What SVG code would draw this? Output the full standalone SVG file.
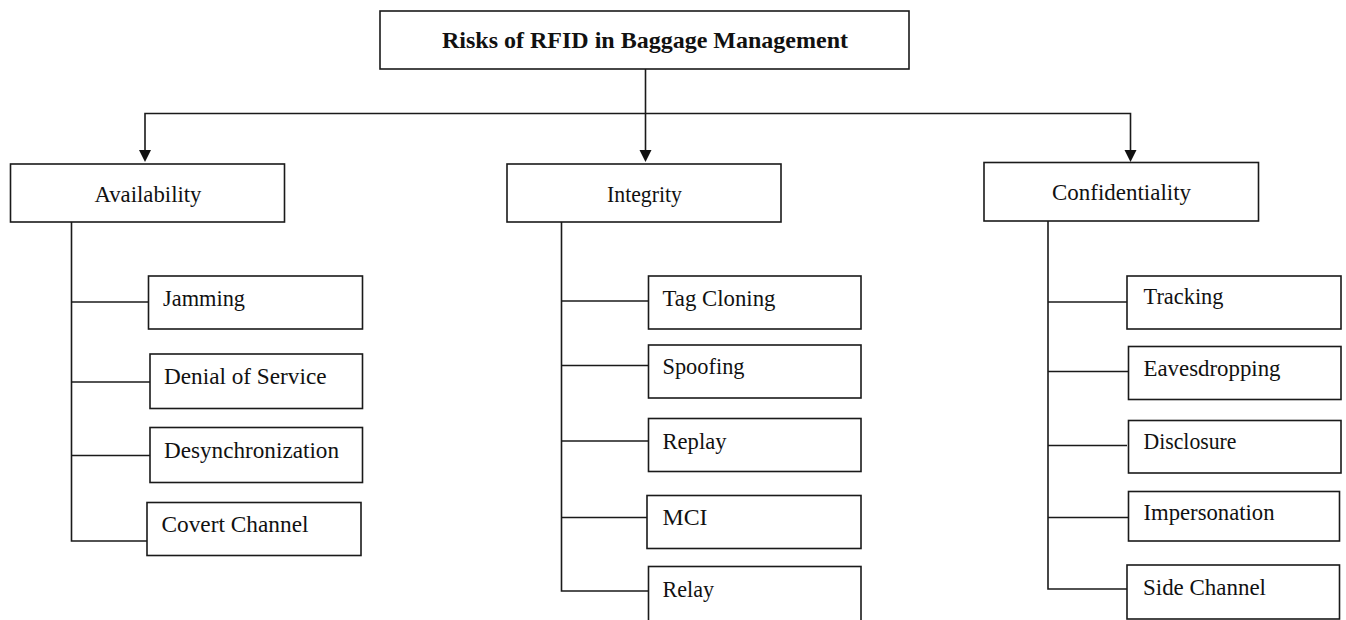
<svg xmlns="http://www.w3.org/2000/svg" width="1346" height="620" viewBox="0 0 1346 620">
  <style>
    .box { fill: #ffffff; stroke: #1a1a1a; stroke-width: 1.6; }
    .wire { fill: none; stroke: #1a1a1a; stroke-width: 1.6; }
    .head { fill: #111111; }
    .lbl { font-family: "Liberation Serif", "Times New Roman", serif; font-size: 23.5px; fill: #111111; }
    .title { font-family: "Liberation Serif", "Times New Roman", serif; font-size: 24px; font-weight: bold; fill: #111111; }
  </style>
  <rect width="1346" height="620" fill="#ffffff"/>

  <!-- connectors -->
  <g id="connectors">
    <!-- root to categories -->
    <line class="wire" x1="645.5" y1="69" x2="645.5" y2="113.5"/>
    <polyline class="wire" points="145,150 145,113.5 1130.5,113.5 1130.5,150"/>
    <line class="wire" x1="645.5" y1="113.5" x2="645.5" y2="150"/>
    <polygon class="head" points="139,150 151,150 145,162"/>
    <polygon class="head" points="639.5,150 651.5,150 645.5,162"/>
    <polygon class="head" points="1124.5,150 1136.5,150 1130.5,162"/>

    <!-- Availability branch -->
    <polyline class="wire" points="71.5,222 71.5,541 148,541"/>
    <line class="wire" x1="71.5" y1="302" x2="148" y2="302"/>
    <line class="wire" x1="71.5" y1="382" x2="150" y2="382"/>
    <line class="wire" x1="71.5" y1="455.5" x2="150" y2="455.5"/>

    <!-- Integrity branch -->
    <polyline class="wire" points="561.5,222 561.5,591 648,591"/>
    <line class="wire" x1="561.5" y1="301" x2="648" y2="301"/>
    <line class="wire" x1="561.5" y1="365.5" x2="648" y2="365.5"/>
    <line class="wire" x1="561.5" y1="441" x2="648" y2="441"/>
    <line class="wire" x1="561.5" y1="517.5" x2="647" y2="517.5"/>

    <!-- Confidentiality branch -->
    <polyline class="wire" points="1048,221 1048,589 1127,589"/>
    <line class="wire" x1="1048" y1="302" x2="1127" y2="302"/>
    <line class="wire" x1="1048" y1="371.5" x2="1128.5" y2="371.5"/>
    <line class="wire" x1="1048" y1="445.5" x2="1127" y2="445.5"/>
    <line class="wire" x1="1048" y1="517.5" x2="1128.5" y2="517.5"/>
  </g>

  <!-- root -->
  <g id="root">
    <rect class="box" x="380" y="11" width="529" height="58"/>
    <text class="title" x="442" y="48" textLength="406" lengthAdjust="spacingAndGlyphs">Risks of RFID in Baggage Management</text>
  </g>

  <!-- categories -->
  <g id="availability">
    <rect class="box" x="10.5" y="164" width="274" height="58"/>
    <text class="lbl" x="94.5" y="202" textLength="107" lengthAdjust="spacingAndGlyphs">Availability</text>
  </g>
  <g id="integrity">
    <rect class="box" x="507" y="164" width="274" height="58"/>
    <text class="lbl" x="607" y="201.5" textLength="75" lengthAdjust="spacingAndGlyphs">Integrity</text>
  </g>
  <g id="confidentiality">
    <rect class="box" x="984" y="162.5" width="274.5" height="58.5"/>
    <text class="lbl" x="1052" y="200" textLength="139" lengthAdjust="spacingAndGlyphs">Confidentiality</text>
  </g>

  <!-- Availability risks -->
  <g id="jamming">
    <rect class="box" x="148.5" y="276" width="214" height="53"/>
    <text class="lbl" x="163" y="306" textLength="82" lengthAdjust="spacingAndGlyphs">Jamming</text>
  </g>
  <g id="denial-of-service">
    <rect class="box" x="150" y="354" width="212.5" height="54.5"/>
    <text class="lbl" x="164" y="383.5" textLength="162.5" lengthAdjust="spacingAndGlyphs">Denial  of Service</text>
  </g>
  <g id="desynchronization">
    <rect class="box" x="150" y="427.5" width="212.5" height="55"/>
    <text class="lbl" x="164" y="457.5" textLength="175" lengthAdjust="spacingAndGlyphs">Desynchronization</text>
  </g>
  <g id="covert-channel">
    <rect class="box" x="147" y="502.5" width="214" height="53"/>
    <text class="lbl" x="161.5" y="531.5" textLength="147" lengthAdjust="spacingAndGlyphs">Covert Channel</text>
  </g>

  <!-- Integrity risks -->
  <g id="tag-cloning">
    <rect class="box" x="648.5" y="276" width="212.5" height="53"/>
    <text class="lbl" x="662.5" y="306" textLength="113" lengthAdjust="spacingAndGlyphs">Tag Cloning</text>
  </g>
  <g id="spoofing">
    <rect class="box" x="648.5" y="345" width="212.5" height="53"/>
    <text class="lbl" x="662.5" y="374" textLength="82" lengthAdjust="spacingAndGlyphs">Spoofing</text>
  </g>
  <g id="replay">
    <rect class="box" x="648.5" y="418.5" width="212.5" height="53"/>
    <text class="lbl" x="662.5" y="448.5" textLength="64" lengthAdjust="spacingAndGlyphs">Replay</text>
  </g>
  <g id="mci">
    <rect class="box" x="647" y="495.5" width="214" height="53"/>
    <text class="lbl" x="662.5" y="524.5" textLength="45" lengthAdjust="spacingAndGlyphs">MCI</text>
  </g>
  <g id="relay">
    <rect class="box" x="648.5" y="566.5" width="212.5" height="60"/>
    <text class="lbl" x="662.5" y="596.5" textLength="51.5" lengthAdjust="spacingAndGlyphs">Relay</text>
  </g>

  <!-- Confidentiality risks -->
  <g id="tracking">
    <rect class="box" x="1127" y="276" width="214" height="53"/>
    <text class="lbl" x="1143.5" y="304" textLength="80" lengthAdjust="spacingAndGlyphs">Tracking</text>
  </g>
  <g id="eavesdropping">
    <rect class="box" x="1128.5" y="346.5" width="212.5" height="53"/>
    <text class="lbl" x="1143.5" y="375.5" textLength="137" lengthAdjust="spacingAndGlyphs">Eavesdropping</text>
  </g>
  <g id="disclosure">
    <rect class="box" x="1128.5" y="420.5" width="212.5" height="52.5"/>
    <text class="lbl" x="1143.5" y="448.5" textLength="93" lengthAdjust="spacingAndGlyphs">Disclosure</text>
  </g>
  <g id="impersonation">
    <rect class="box" x="1128.5" y="491.5" width="211" height="49.5"/>
    <text class="lbl" x="1143.5" y="520" textLength="131" lengthAdjust="spacingAndGlyphs">Impersonation</text>
  </g>
  <g id="side-channel">
    <rect class="box" x="1127" y="565" width="212.5" height="54"/>
    <text class="lbl" x="1143" y="594.5" textLength="123" lengthAdjust="spacingAndGlyphs">Side Channel</text>
  </g>
</svg>
